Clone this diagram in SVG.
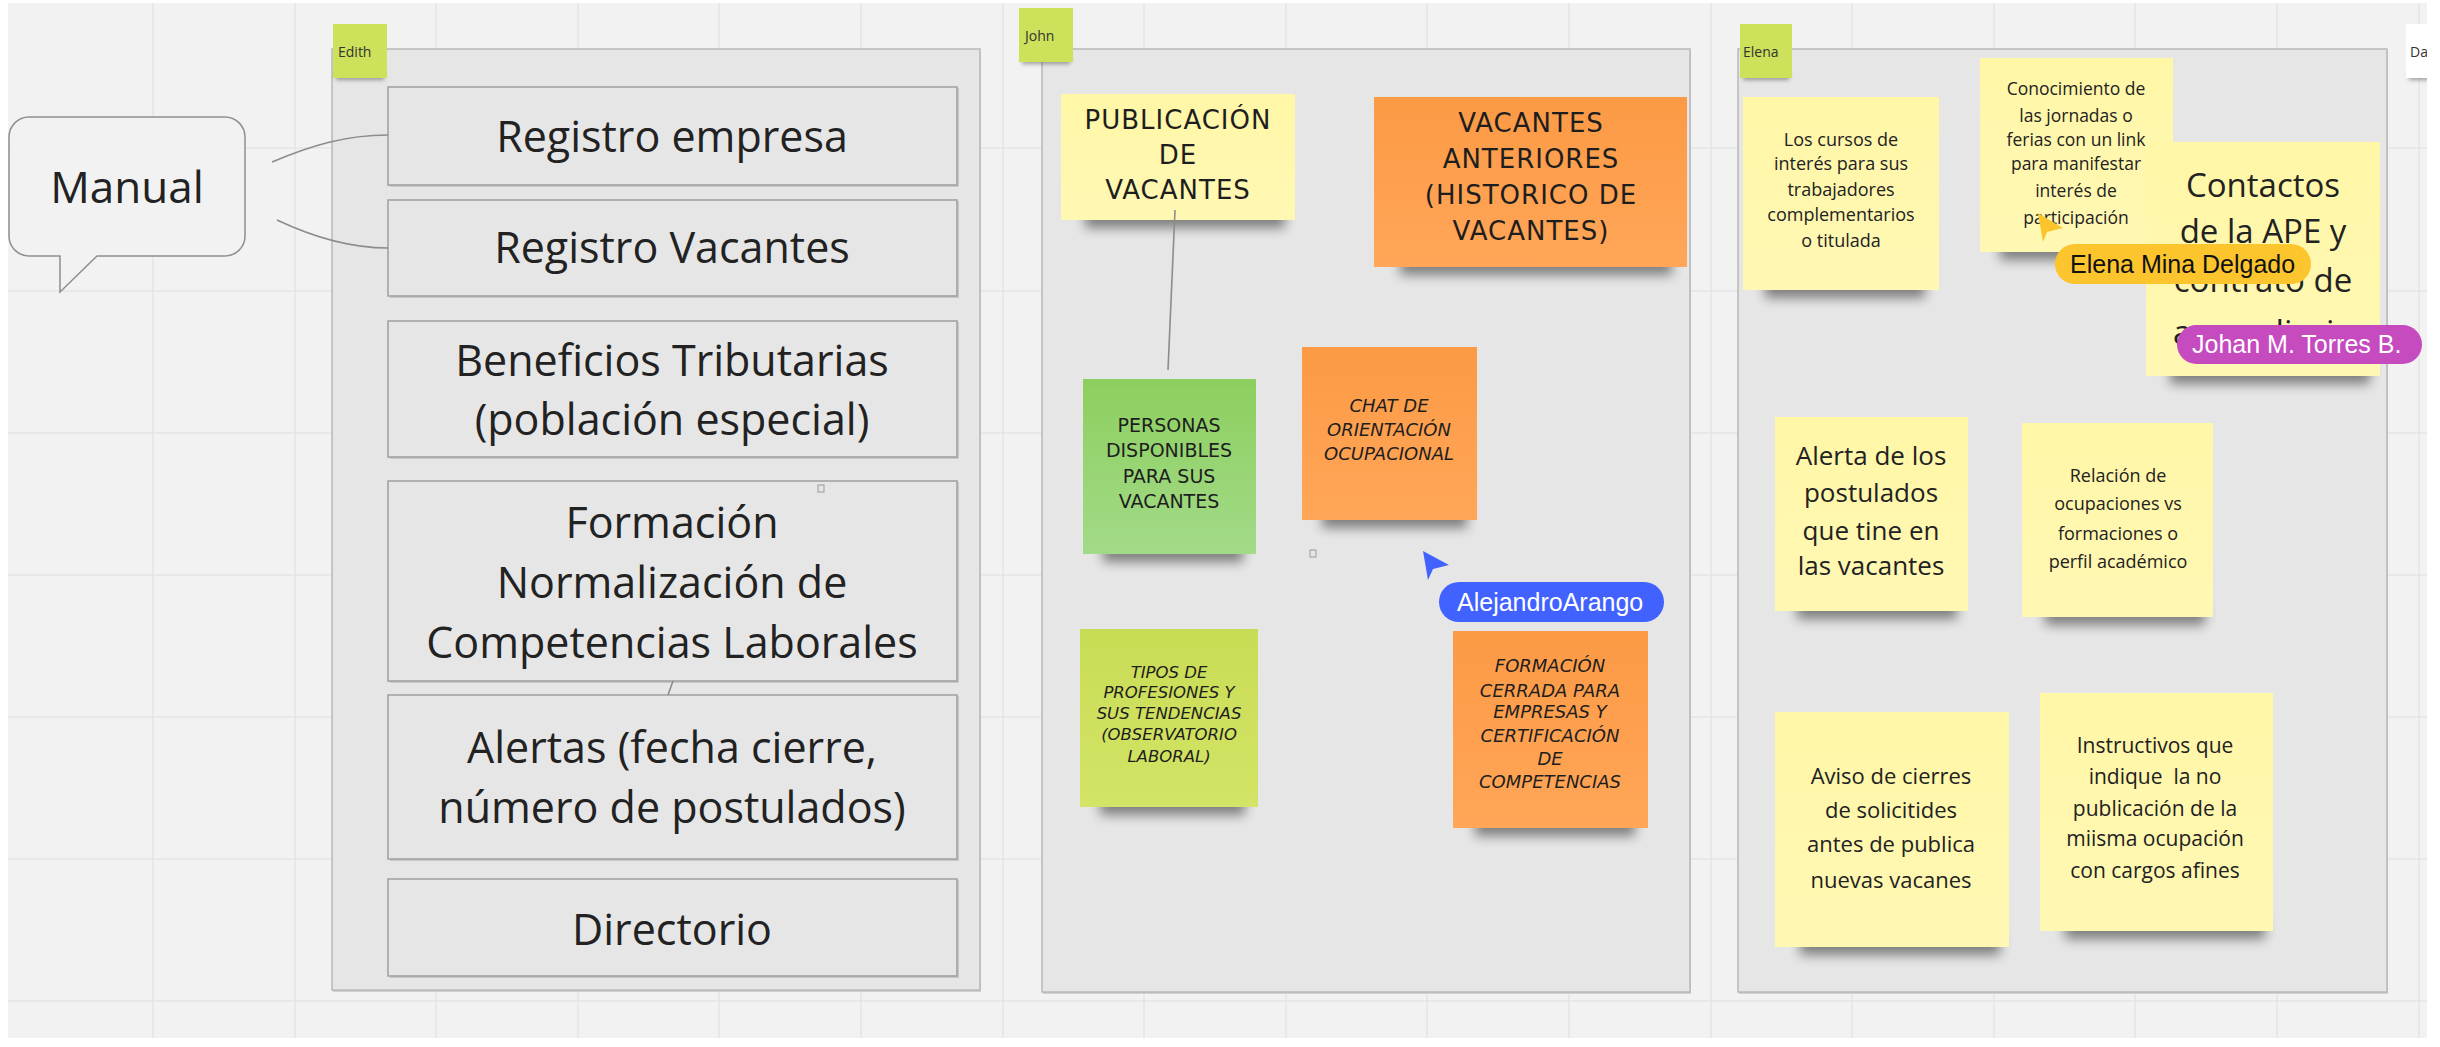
<svg xmlns="http://www.w3.org/2000/svg" width="2440" height="1047" viewBox="0 0 2440 1047">
<defs>
<style>
.grid{stroke:#e4e4e4;stroke-width:1.5}
.frame{fill:#e6e6e6;stroke:#b8b8b8;stroke-width:1.5}
.box{fill:#e6e6e6;stroke:#a3a3a3;stroke-width:1.6}
.boxtxt{font-family:"Open Sans","Noto Sans",sans-serif;font-size:43px;fill:#222;text-anchor:middle}
.os{font-family:"Open Sans","Noto Sans",sans-serif;fill:#222;text-anchor:middle}
.hand{font-family:"DejaVu Sans",sans-serif;fill:#1e1e1e;text-anchor:middle}
.it{font-style:italic}
.yel{fill:url(#gy)}
.org{fill:url(#go)}
.grn{fill:url(#gg)}
.lim{fill:url(#gl)}
.shd{fill:#000;opacity:.45;filter:url(#blur)}
.tag{fill:#cde15a}
.tagtxt{font-family:"Open Sans","Noto Sans",sans-serif;font-size:14px;fill:#333}
.conn{fill:none;stroke:#8c8c8c;stroke-width:1.6}
.pilltxt{font-family:"Liberation Sans",Arial,sans-serif;font-size:25px}
</style>
<filter id="blur" x="-30%" y="-100%" width="160%" height="300%"><feGaussianBlur stdDeviation="6"/></filter>
<filter id="blur2" x="-30%" y="-100%" width="160%" height="300%"><feGaussianBlur stdDeviation="2"/></filter>
<linearGradient id="gy" x1="0" y1="0" x2="0" y2="1"><stop offset="0" stop-color="#fff6a6"/><stop offset="1" stop-color="#fff8b4"/></linearGradient>
<linearGradient id="go" x1="0" y1="0" x2="0" y2="1"><stop offset="0" stop-color="#fc9a45"/><stop offset="1" stop-color="#ffa658"/></linearGradient>
<linearGradient id="gg" x1="0" y1="0" x2="0" y2="1"><stop offset="0" stop-color="#8ccf5e"/><stop offset="1" stop-color="#a3da88"/></linearGradient>
<linearGradient id="gl" x1="0" y1="0" x2="0" y2="1"><stop offset="0" stop-color="#c9dc55"/><stop offset="1" stop-color="#d3e466"/></linearGradient>
<clipPath id="clipR"><rect x="0" y="0" width="2427" height="1047"/></clipPath>
</defs>

<rect x="0" y="0" width="2440" height="1047" fill="#ffffff"/>
<rect x="8" y="3" width="2419" height="1035" fill="#f2f2f2"/>
<g id="grid">
<line class="grid" x1="153" y1="3" x2="153" y2="1038"/>
<line class="grid" x1="295" y1="3" x2="295" y2="1038"/>
<line class="grid" x1="436" y1="3" x2="436" y2="1038"/>
<line class="grid" x1="578" y1="3" x2="578" y2="1038"/>
<line class="grid" x1="719" y1="3" x2="719" y2="1038"/>
<line class="grid" x1="861" y1="3" x2="861" y2="1038"/>
<line class="grid" x1="1003" y1="3" x2="1003" y2="1038"/>
<line class="grid" x1="1144" y1="3" x2="1144" y2="1038"/>
<line class="grid" x1="1286" y1="3" x2="1286" y2="1038"/>
<line class="grid" x1="1427" y1="3" x2="1427" y2="1038"/>
<line class="grid" x1="1569" y1="3" x2="1569" y2="1038"/>
<line class="grid" x1="1711" y1="3" x2="1711" y2="1038"/>
<line class="grid" x1="1852" y1="3" x2="1852" y2="1038"/>
<line class="grid" x1="1994" y1="3" x2="1994" y2="1038"/>
<line class="grid" x1="2135" y1="3" x2="2135" y2="1038"/>
<line class="grid" x1="2277" y1="3" x2="2277" y2="1038"/>
<line class="grid" x1="2419" y1="3" x2="2419" y2="1038"/>
<line class="grid" x1="8" y1="148" x2="2427" y2="148"/>
<line class="grid" x1="8" y1="291" x2="2427" y2="291"/>
<line class="grid" x1="8" y1="433" x2="2427" y2="433"/>
<line class="grid" x1="8" y1="575" x2="2427" y2="575"/>
<line class="grid" x1="8" y1="717" x2="2427" y2="717"/>
<line class="grid" x1="8" y1="859" x2="2427" y2="859"/>
<line class="grid" x1="8" y1="1001" x2="2427" y2="1001"/>
</g>

<g id="manual">
<path d="M29,117 H225 A20,20 0 0 1 245,137 V236 A20,20 0 0 1 225,256 H97 L60,292 V256 H29 A20,20 0 0 1 9,236 V137 A20,20 0 0 1 29,117 Z" fill="#f2f2f2" stroke="#8f8f8f" stroke-width="1.5"/>
<text class="os" x="127" y="203" font-size="44">Manual</text>
</g>

<g id="frame-edith">
<rect x="333" y="51" width="648" height="941" fill="#cfcfcf"/>
<rect class="frame" x="332" y="49" width="648" height="941"/>
</g>
<g id="frame-john">
<rect x="1043" y="51" width="648" height="943" fill="#cfcfcf"/>
<rect class="frame" x="1042" y="49" width="648" height="943"/>
</g>
<g id="frame-elena">
<rect x="1739" y="51" width="649" height="943" fill="#cfcfcf"/>
<rect class="frame" x="1738" y="49" width="649" height="943"/>
</g>

<g id="edith-boxes">
<g id="registro-empresa">
<rect x="390" y="88" width="569" height="99" fill="#c8c8c8"/>
<rect class="box" x="388" y="87" width="569" height="98"/>
<text class="boxtxt" x="672" y="152">Registro empresa</text>
</g>
<g id="registro-vacantes">
<rect x="390" y="201" width="569" height="97" fill="#c8c8c8"/>
<rect class="box" x="388" y="200" width="569" height="96"/>
<text class="boxtxt" x="672" y="263">Registro Vacantes</text>
</g>
<g id="beneficios">
<rect x="390" y="322" width="569" height="137" fill="#c8c8c8"/>
<rect class="box" x="388" y="321" width="569" height="136"/>
<text class="boxtxt" x="672" y="376">Beneficios Tributarias</text>
<text class="boxtxt" x="672" y="435">(población especial)</text>
</g>
<g id="formacion">
<rect x="390" y="482" width="569" height="201" fill="#c8c8c8"/>
<rect class="box" x="388" y="481" width="569" height="200"/>
<text class="boxtxt" x="672" y="538">Formación</text>
<text class="boxtxt" x="672" y="598">Normalización de</text>
<text class="boxtxt" x="672" y="658">Competencias Laborales</text>
</g>
<g id="alertas">
<rect x="390" y="696" width="569" height="165" fill="#c8c8c8"/>
<rect class="box" x="388" y="695" width="569" height="164"/>
<text class="boxtxt" x="672" y="763">Alertas (fecha cierre,</text>
<text class="boxtxt" x="672" y="823">número de postulados)</text>
</g>
<g id="directorio">
<rect x="390" y="880" width="569" height="98" fill="#c8c8c8"/>
<rect class="box" x="388" y="879" width="569" height="97"/>
<text class="boxtxt" x="672" y="945">Directorio</text>
</g>
<rect x="818" y="485" width="6" height="7" fill="none" stroke="#999" stroke-width="1"/>
</g>

<g id="john-stickies">
<g id="publicacion">
<rect class="shd" x="1085" y="206" width="200" height="22"/>
<rect class="yel" x="1061" y="94" width="234" height="126"/>
<text class="hand" font-size="26" letter-spacing="1" x="1178" y="129">PUBLICACIÓN</text>
<text class="hand" font-size="26" letter-spacing="1" x="1178" y="164">DE</text>
<text class="hand" font-size="26" letter-spacing="1" x="1178" y="199">VACANTES</text>
</g>
<g id="vacantes-anteriores">
<rect class="shd" x="1400" y="253" width="272" height="22"/>
<rect class="org" x="1374" y="97" width="313" height="170"/>
<text class="hand" font-size="26" letter-spacing="1" x="1531" y="132">VACANTES</text>
<text class="hand" font-size="26" letter-spacing="1" x="1531" y="168">ANTERIORES</text>
<text class="hand" font-size="26" letter-spacing="1" x="1531" y="204">(HISTORICO DE</text>
<text class="hand" font-size="26" letter-spacing="1" x="1531" y="240">VACANTES)</text>
</g>
<g id="personas">
<rect class="shd" x="1103" y="540" width="140" height="22"/>
<rect class="grn" x="1083" y="379" width="173" height="175"/>
<text class="hand" font-size="19" x="1169" y="432">PERSONAS</text>
<text class="hand" font-size="19" x="1169" y="457">DISPONIBLES</text>
<text class="hand" font-size="19" x="1169" y="483">PARA SUS</text>
<text class="hand" font-size="19" x="1169" y="508">VACANTES</text>
</g>
<g id="chat">
<rect class="shd" x="1322" y="506" width="145" height="22"/>
<rect class="org" x="1302" y="347" width="175" height="173"/>
<text class="hand it" font-size="18" x="1389" y="412">CHAT DE</text>
<text class="hand it" font-size="18" x="1389" y="436">ORIENTACIÓN</text>
<text class="hand it" font-size="18" x="1389" y="460">OCUPACIONAL</text>
</g>
<g id="tipos">
<rect class="shd" x="1100" y="793" width="145" height="22"/>
<rect class="lim" x="1080" y="629" width="178" height="178"/>
<text class="hand it" font-size="16.5" x="1169" y="678">TIPOS DE</text>
<text class="hand it" font-size="16.5" x="1169" y="698">PROFESIONES Y</text>
<text class="hand it" font-size="16.5" x="1169" y="719">SUS TENDENCIAS</text>
<text class="hand it" font-size="16.5" x="1169" y="740">(OBSERVATORIO</text>
<text class="hand it" font-size="16.5" x="1169" y="762">LABORAL)</text>
</g>
<g id="formacion-cerrada">
<rect class="shd" x="1475" y="814" width="160" height="22"/>
<rect class="org" x="1453" y="631" width="195" height="197"/>
<text class="hand it" font-size="18" x="1550" y="672">FORMACIÓN</text>
<text class="hand it" font-size="18" x="1550" y="697">CERRADA PARA</text>
<text class="hand it" font-size="18" x="1550" y="718">EMPRESAS Y</text>
<text class="hand it" font-size="18" x="1550" y="742">CERTIFICACIÓN</text>
<text class="hand it" font-size="18" x="1550" y="765">DE</text>
<text class="hand it" font-size="18" x="1550" y="788">COMPETENCIAS</text>
</g>
<rect x="1310" y="550" width="6" height="7" fill="none" stroke="#999" stroke-width="1"/>
</g>

<g id="elena-stickies">
<g id="cursos">
<rect class="shd" x="1765" y="276" width="160" height="22"/>
<rect class="yel" x="1743" y="97" width="196" height="193"/>
<text class="os" font-size="18" x="1841" y="146">Los cursos de</text>
<text class="os" font-size="18" x="1841" y="170">interés para sus</text>
<text class="os" font-size="18" x="1841" y="196">trabajadores</text>
<text class="os" font-size="18" x="1841" y="221">complementarios</text>
<text class="os" font-size="18" x="1841" y="247">o titulada</text>
</g>
<g id="conocimiento">
<rect class="shd" x="2000" y="238" width="160" height="22"/>
<rect class="yel" x="1980" y="58" width="193" height="194"/>
<text class="os" font-size="17.5" x="2076" y="95">Conocimiento de</text>
<text class="os" font-size="17.5" x="2076" y="122">las jornadas o</text>
<text class="os" font-size="17.5" x="2076" y="146">ferias con un link</text>
<text class="os" font-size="17.5" x="2076" y="170">para manifestar</text>
<text class="os" font-size="17.5" x="2076" y="197">interés de</text>
<text class="os" font-size="17.5" x="2076" y="224">participación</text>
</g>
<g id="contactos">
<rect class="shd" x="2170" y="362" width="200" height="22"/>
<rect class="yel" x="2146" y="142" width="234" height="234"/>
<text class="os" font-size="33" x="2263" y="197">Contactos</text>
<text class="os" font-size="33" x="2263" y="243">de la APE y</text>
<text class="os" font-size="33" x="2263" y="292">contrato de</text>
<text class="os" font-size="33" x="2263" y="344">aprendizaje</text>
</g>
<g id="alerta-postulados">
<rect class="shd" x="1797" y="597" width="160" height="22"/>
<rect class="yel" x="1775" y="417" width="193" height="194"/>
<text class="os" font-size="26" x="1871" y="465">Alerta de los</text>
<text class="os" font-size="26" x="1871" y="502">postulados</text>
<text class="os" font-size="26" x="1871" y="540">que tine en</text>
<text class="os" font-size="26" x="1871" y="575">las vacantes</text>
</g>
<g id="relacion">
<rect class="shd" x="2045" y="603" width="160" height="22"/>
<rect class="yel" x="2022" y="423" width="191" height="194"/>
<text class="os" font-size="18" x="2118" y="482">Relación de</text>
<text class="os" font-size="18" x="2118" y="510">ocupaciones vs</text>
<text class="os" font-size="18" x="2118" y="540">formaciones o</text>
<text class="os" font-size="18" x="2118" y="568">perfil académico</text>
</g>
<g id="aviso">
<rect class="shd" x="1800" y="933" width="200" height="22"/>
<rect class="yel" x="1775" y="712" width="234" height="235"/>
<text class="os" font-size="22" x="1891" y="784">Aviso de cierres</text>
<text class="os" font-size="22" x="1891" y="818">de solicitides</text>
<text class="os" font-size="22" x="1891" y="852">antes de publica</text>
<text class="os" font-size="22" x="1891" y="888">nuevas vacanes</text>
</g>
<g id="instructivos">
<rect class="shd" x="2065" y="917" width="200" height="22"/>
<rect class="yel" x="2040" y="693" width="233" height="238"/>
<text class="os" font-size="21" x="2155" y="753">Instructivos que</text>
<text class="os" font-size="21" x="2155" y="784" xml:space="preserve">indique  la no</text>
<text class="os" font-size="21" x="2155" y="816">publicación de la</text>
<text class="os" font-size="21" x="2155" y="846">miisma ocupación</text>
<text class="os" font-size="21" x="2155" y="878">con cargos afines</text>
</g>
</g>

<g id="connectors">
<path class="conn" d="M272,162 C310,146 345,135 388,135"/>
<path class="conn" d="M277,220 C315,238 350,248 388,248"/>
<path class="conn" d="M673,681 L668,695"/>
<path class="conn" d="M1175,210 L1168,370"/>
</g>

<g id="tags">
<g id="tag-edith">
<rect x="336" y="70" width="48" height="10" fill="#000" opacity=".35" filter="url(#blur2)"/>
<rect class="tag" x="333" y="24" width="54" height="54"/>
<text class="tagtxt" x="338" y="57">Edith</text>
</g>
<g id="tag-john">
<rect x="1022" y="54" width="48" height="10" fill="#000" opacity=".35" filter="url(#blur2)"/>
<rect class="tag" x="1019" y="8" width="54" height="54"/>
<text class="tagtxt" x="1025" y="41">John</text>
</g>
<g id="tag-elena">
<rect x="1743" y="70" width="46" height="10" fill="#000" opacity=".35" filter="url(#blur2)"/>
<rect class="tag" x="1740" y="24" width="52" height="54"/>
<text class="tagtxt" x="1743" y="57">Elena</text>
</g>
<g id="tag-da" clip-path="url(#clipR)">
<rect x="2409" y="70" width="40" height="10" fill="#000" opacity=".35" filter="url(#blur2)"/>
<rect x="2406" y="24" width="54" height="54" fill="#ffffff"/>
<text class="tagtxt" x="2410" y="57" fill="#555">Da</text>
</g>
</g>

<g id="cursors">
<g id="cursor-alejandro">
<path d="M1423,551 L1449,565 L1433,569 L1428,580 Z" fill="#4262ff"/>
<rect x="1439" y="582" width="225" height="40" rx="20" fill="#4262ff"/>
<text class="pilltxt" x="1457" y="611" fill="#ffffff">AlejandroArango</text>
</g>
<g id="cursor-elena">
<path d="M2038,213 L2063,228 L2047,232 L2043,242 Z" fill="#fcc52e"/>
<rect x="2055" y="244" width="256" height="40" rx="20" fill="#fcc52e"/>
<text class="pilltxt" x="2070" y="273" fill="#111111">Elena Mina Delgado</text>
</g>
<g id="cursor-johan">
<rect x="2177" y="325" width="245" height="39" rx="19.5" fill="#c54bbf"/>
<text class="pilltxt" x="2192" y="353" fill="#ffffff">Johan M. Torres B.</text>
</g>
</g>
</svg>
